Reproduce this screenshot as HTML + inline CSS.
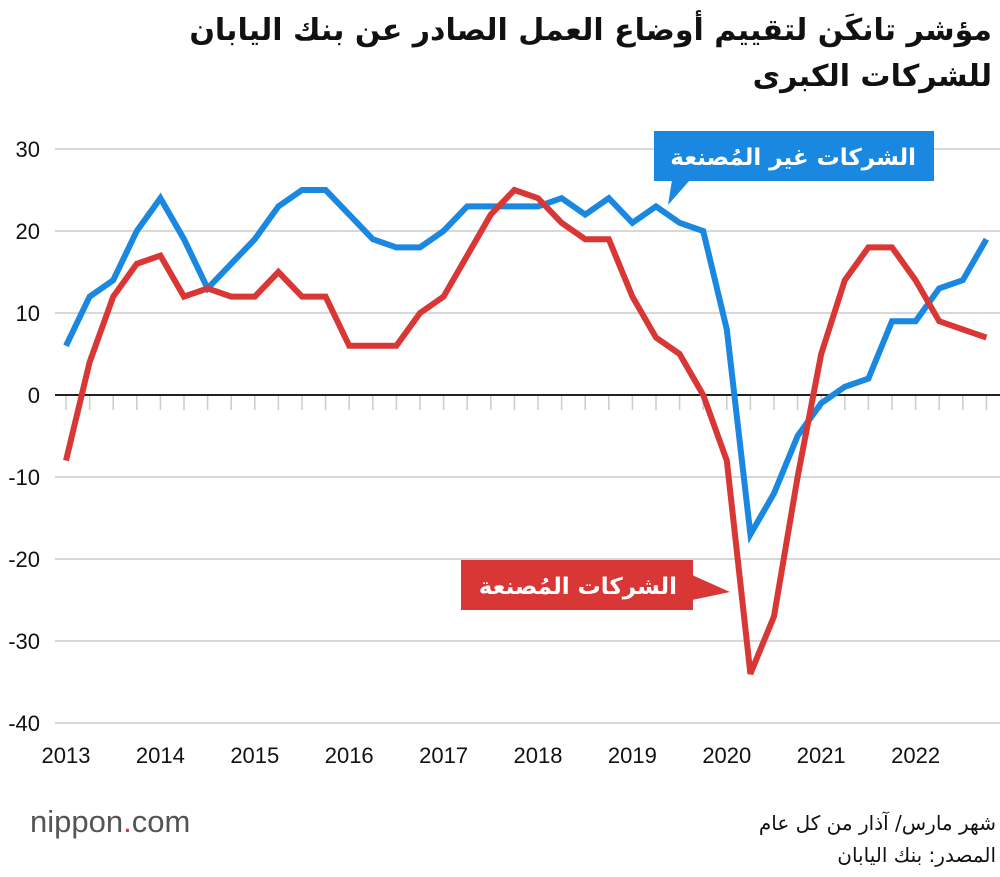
<!DOCTYPE html>
<html><head><meta charset="utf-8">
<style>
body{margin:0;background:#fff;width:1000px;height:872px;overflow:hidden;font-family:"Liberation Sans","DejaVu Sans",sans-serif;}
.ar{font-family:"DejaVu Sans","Liberation Sans",sans-serif;}
</style></head>
<body>
<svg id="chart" width="1000" height="872" xmlns="http://www.w3.org/2000/svg">
<text class="ar" x="992" y="40" text-anchor="start" direction="rtl" font-size="30" font-weight="bold" fill="#111">مؤشر تانكَن لتقييم أوضاع العمل الصادر عن بنك اليابان</text>
<text class="ar" x="992" y="86" text-anchor="start" direction="rtl" font-size="30" font-weight="bold" fill="#111">للشركات الكبرى</text>
<g id="grid"></g>
<g id="ticks"></g>
<g id="series"></g>
<g>
<rect x="654" y="131" width="280" height="50" fill="#1a87e0"/>
<polygon points="672,180 690,180 668,205" fill="#1a87e0"/>
<text class="ar" x="916" y="165" text-anchor="start" direction="rtl" font-size="23" font-weight="bold" fill="#fff">الشركات غير المُصنعة</text>
</g>
<g>
<rect x="461" y="560" width="232" height="50" fill="#d93636"/>
<polygon points="692,575 692,600 730,592" fill="#d93636"/>
<text class="ar" x="677" y="594" text-anchor="start" direction="rtl" font-size="23" font-weight="bold" fill="#fff">الشركات المُصنعة</text>
</g>
<text x="30" y="832" font-size="31" fill="#555">nippon<tspan fill="#d93636">.</tspan>com</text>
<text class="ar" x="996" y="830" text-anchor="start" direction="rtl" font-size="20" fill="#111">شهر مارس/ آذار من كل عام</text>
<text class="ar" x="996" y="862" text-anchor="start" direction="rtl" font-size="20" fill="#111">المصدر: بنك اليابان</text>
</svg>
<script>
const years=["2013","2014","2015","2016","2017","2018","2019","2020","2021","2022"];
const yTicks=[30,20,10,0,-10,-20,-30,-40];
const nonManufacturing=[6,12,14,20,24,19,13,16,19,23,25,25,22,19,18,18,20,23,23,23,23,24,22,24,21,23,21,20,8,-17,-12,-5,-1,1,2,9,9,13,14,19];
const manufacturing=[-8,4,12,16,17,12,13,12,12,15,12,12,6,6,6,10,12,17,22,25,24,21,19,19,12,7,5,0,-8,-34,-27,-10,5,14,18,18,14,9,8,7];
const NS="http://www.w3.org/2000/svg";
const x=i=>66+i*23.6;
const y=v=>395-v*8.2;
function mk(t,a,p){const e=document.createElementNS(NS,t);for(const k in a)e.setAttribute(k,a[k]);p.appendChild(e);return e;}
const grid=document.getElementById('grid');
yTicks.forEach(v=>{
  const l=mk('line',{x1:55,x2:1000,y1:y(v),y2:y(v),stroke:v===0?'#222':'#ccc','stroke-width':v===0?2:1.5},grid);
  
  
  const t=mk('text',{x:40,y:y(v)+8,'text-anchor':'end','font-size':22,fill:'#111'},grid);
  t.textContent=v;
  
  
});
const tk=document.getElementById('ticks');
for(let i=0;i<40;i++){
  const l=mk('line',{x1:x(i),x2:x(i),y1:y(0)+1,y2:y(0)+15,stroke:'#ccc','stroke-width':1.5},tk);
  
  
}
years.forEach((yr,j)=>{
  const t=mk('text',{x:x(j*4),y:763,'text-anchor':'middle','font-size':22,fill:'#111'},tk);
  t.textContent=yr;
  
  
});
const s=document.getElementById('series');
function line(d,c,n){
  const p=mk('polyline',{points:d.map((v,i)=>x(i)+','+y(v)).join(' '),fill:'none',stroke:c,'stroke-width':6,'stroke-linejoin':'miter','stroke-linecap':'butt'},s);
  
  
}
line(nonManufacturing,'#1a87e0','nonmanufacturing-line');
line(manufacturing,'#d93636','manufacturing-line');
</script>
</body></html>
